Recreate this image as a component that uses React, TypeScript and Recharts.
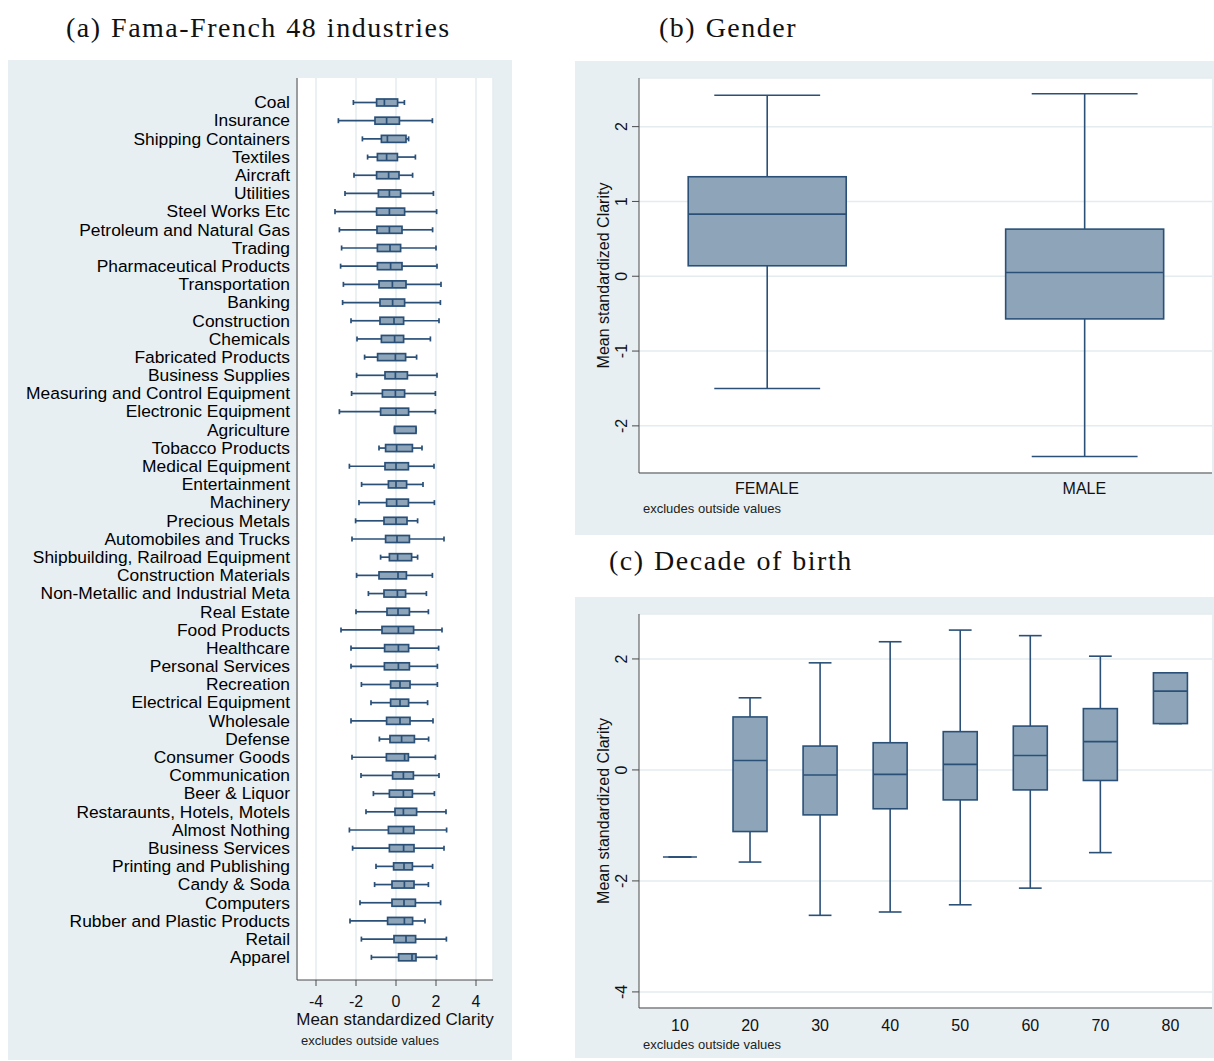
import React from "react";
import { ComposedChart, Bar, XAxis, YAxis, CartesianGrid } from "recharts";

// Stata s2color-ish palette
const BG = "#e8eff2";
const NAVY = "#2a5078";
const FILL = "#8ea5b9";
const GRID = "#e4ecef";
const AXIS = "#4a4a4a";
const SANS = "Arial, 'Liberation Sans', sans-serif";
const SERIF = "'Liberation Serif', 'Times New Roman', serif";

// (a) Fama-French 48 industries
const industries = [
    "Coal", "Insurance", "Shipping Containers", "Textiles", "Aircraft", "Utilities",
    "Steel Works Etc", "Petroleum and Natural Gas", "Trading", "Pharmaceutical Products",
    "Transportation", "Banking", "Construction", "Chemicals", "Fabricated Products",
    "Business Supplies", "Measuring and Control Equipment", "Electronic Equipment",
    "Agriculture", "Tobacco Products", "Medical Equipment", "Entertainment", "Machinery",
    "Precious Metals", "Automobiles and Trucks", "Shipbuilding, Railroad Equipment",
    "Construction Materials", "Non-Metallic and Industrial Meta", "Real Estate",
    "Food Products", "Healthcare", "Personal Services", "Recreation", "Electrical Equipment",
    "Wholesale", "Defense", "Consumer Goods", "Communication", "Beer & Liquor",
    "Restaraunts, Hotels, Motels", "Almost Nothing", "Business Services",
    "Printing and Publishing", "Candy & Soda", "Computers", "Rubber and Plastic Products",
    "Retail", "Apparel",
];
const indMin = [
    -2.13, -2.88, -1.68, -1.42, -2.1, -2.55, -3.05, -2.83, -2.72, -2.77, -2.63, -2.67,
    -2.25, -1.95, -1.57, -1.97, -2.22, -2.83, -0.07, -0.85, -2.33, -1.72, -1.85, -2.02,
    -2.2, -0.77, -1.97, -1.38, -2.0, -2.75, -2.25, -2.25, -1.73, -1.25, -2.25, -0.83,
    -2.2, -1.75, -1.13, -1.5, -2.33, -2.17, -1.0, -1.07, -1.8, -2.3, -1.73, -1.23,
];
const indQ1 = [
    -0.97, -1.05, -0.73, -0.93, -0.97, -0.88, -0.97, -0.95, -0.93, -0.93, -0.85, -0.8,
    -0.8, -0.73, -0.92, -0.55, -0.68, -0.77, -0.07, -0.52, -0.55, -0.38, -0.47, -0.6,
    -0.52, -0.33, -0.85, -0.6, -0.45, -0.7, -0.57, -0.58, -0.27, -0.27, -0.47, -0.3,
    -0.48, -0.17, -0.33, -0.05, -0.38, -0.33, -0.12, -0.2, -0.2, -0.42, -0.1, 0.13,
];
const indMed = [
    -0.58, -0.47, -0.43, -0.47, -0.37, -0.33, -0.33, -0.33, -0.3, -0.27, -0.18, -0.17,
    -0.1, -0.07, -0.03, -0.03, -0.03, 0.0, -0.07, 0.03, 0.0, 0.0, 0.03, 0.0,
    0.05, 0.08, 0.1, 0.07, 0.1, 0.12, 0.12, 0.12, 0.2, 0.2, 0.2, 0.28,
    0.43, 0.37, 0.37, 0.37, 0.37, 0.38, 0.4, 0.42, 0.4, 0.42, 0.5, 0.8,
];
const indQ3 = [
    0.08, 0.17, 0.5, 0.07, 0.15, 0.23, 0.43, 0.3, 0.23, 0.3, 0.5, 0.43,
    0.38, 0.38, 0.48, 0.57, 0.43, 0.63, 1.0, 0.82, 0.62, 0.53, 0.62, 0.55,
    0.67, 0.78, 0.52, 0.48, 0.67, 0.88, 0.63, 0.67, 0.7, 0.63, 0.7, 0.92,
    0.62, 0.87, 0.82, 1.03, 0.9, 0.9, 0.82, 0.9, 0.97, 0.83, 0.98, 1.0,
];
const indMax = [
    0.42, 1.82, 0.63, 0.97, 0.83, 1.87, 2.03, 1.83, 2.0, 2.05, 2.25, 2.22,
    2.15, 1.72, 1.03, 2.05, 1.97, 1.97, 1.0, 1.3, 1.9, 1.35, 1.92, 1.08,
    2.4, 1.08, 1.82, 1.52, 1.62, 2.3, 2.13, 2.07, 2.07, 1.58, 1.85, 1.63,
    1.97, 2.15, 1.92, 2.5, 2.53, 2.4, 1.83, 1.62, 2.23, 1.45, 2.52, 2.03,
];

// (b) Gender
const genders = ["FEMALE", "MALE"];
const genMin = [-1.5, -2.41];
const genQ1 = [0.14, -0.57];
const genMed = [0.83, 0.05];
const genQ3 = [1.33, 0.63];
const genMax = [2.42, 2.44];

// (c) Decade of birth
const decades = [10, 20, 30, 40, 50, 60, 70, 80];
const decMin = [-1.57, -1.66, -2.62, -2.56, -2.43, -2.13, -1.49, 0.835];
const decQ1 = [-1.57, -1.11, -0.81, -0.7, -0.54, -0.36, -0.19, 0.835];
const decMed = [-1.57, 0.17, -0.09, -0.08, 0.1, 0.26, 0.51, 1.42];
const decQ3 = [-1.57, 0.955, 0.43, 0.49, 0.69, 0.79, 1.105, 1.75];
const decMax = [-1.57, 1.3, 1.93, 2.31, 2.52, 2.42, 2.05, 1.75];

const industryData = industries.map((name, i) => ({
    name,
    min: indMin[i],
    q1: indQ1[i],
    med: indMed[i],
    q3: indQ3[i],
    max: indMax[i],
}));

const genderData = genders.map((name, i) => ({
    pos: i + 1,
    min: genMin[i],
    q1: genQ1[i],
    med: genMed[i],
    q3: genQ3[i],
    max: genMax[i],
}));

const decadeData = decades.map((d, i) => ({
    pos: d,
    min: decMin[i],
    q1: decQ1[i],
    med: decMed[i],
    q3: decQ3[i],
    max: decMax[i],
}));

const whiskerRange = (d: any) => [d.min, d.max];

// horizontal box: the bar spans min..max along x
const HBox = (props: any) => {
    const { x, y, width, height, payload } = props;
    const { min, q1, med, q3, max } = payload;
    const span = max - min;
    const px = (v: number) => (span === 0 ? x : x + (width * (v - min)) / span);
    const cy = y + height / 2;
    const cap = height * 0.36;
    return (
        <g stroke={NAVY} strokeWidth={1.7} fill="none">
            <line x1={px(min)} x2={px(q1)} y1={cy} y2={cy} />
            <line x1={px(q3)} x2={px(max)} y1={cy} y2={cy} />
            <line x1={px(min)} x2={px(min)} y1={cy - cap} y2={cy + cap} />
            <line x1={px(max)} x2={px(max)} y1={cy - cap} y2={cy + cap} />
            <rect x={px(q1)} y={y} width={px(q3) - px(q1)} height={height} fill={FILL} />
            <line x1={px(med)} x2={px(med)} y1={y} y2={y + height} />
        </g>
    );
};

// vertical box: the bar spans min..max along y
const VBox = (props: any) => {
    const { x, y, width, height, payload } = props;
    const { min, q1, med, q3, max } = payload;
    const span = max - min;
    const py = (v: number) => (span === 0 ? y : y + (height * (max - v)) / span);
    const cx = x + width / 2;
    const cap = (width * 0.67) / 2;
    return (
        <g stroke={NAVY} strokeWidth={1.6} fill="none">
            <line x1={cx} x2={cx} y1={py(max)} y2={py(q3)} />
            <line x1={cx} x2={cx} y1={py(q1)} y2={py(min)} />
            <line x1={cx - cap} x2={cx + cap} y1={py(max)} y2={py(max)} />
            <line x1={cx - cap} x2={cx + cap} y1={py(min)} y2={py(min)} />
            <rect x={x} y={py(q3)} width={width} height={py(q1) - py(q3)} fill={FILL} />
            <line x1={x} x2={x + width} y1={py(med)} y2={py(med)} />
        </g>
    );
};

const RotTick = (props: any) => {
    const { x, y, payload } = props;
    return (
        <text
            transform={`translate(${x - 4.6},${y}) rotate(-90)`}
            textAnchor="middle"
            fontSize={16}
            fontFamily={SANS}
            fill="#111"
        >
            {payload.value}
        </text>
    );
};

const noteStyle: React.CSSProperties = {
    position: "absolute",
    fontFamily: SANS,
    fontSize: 13,
    lineHeight: "13px",
    color: "#222",
    whiteSpace: "nowrap",
};

const titleStyle: React.CSSProperties = {
    position: "absolute",
    fontFamily: SERIF,
    fontSize: 28,
    lineHeight: "28px",
    letterSpacing: "1.5px",
    wordSpacing: "1px",
    color: "#111",
    whiteSpace: "nowrap",
};

function IndustryPanel() {
    return (
        <div style={{ position: "absolute", left: 8, top: 60, width: 504, height: 1000, background: BG }}>
            <ComposedChart
                layout="vertical"
                width={504}
                height={1000}
                data={industryData}
                margin={{ top: 18, right: 19, bottom: 0, left: 0 }}
            >
                <CartesianGrid horizontal={false} stroke={GRID} strokeWidth={1.5} fill="#ffffff" />
                <XAxis
                    type="number"
                    domain={[-4.95, 4.85]}
                    ticks={[-4, -2, 0, 2, 4]}
                    allowDataOverflow
                    height={80}
                    stroke={AXIS}
                    tickSize={6}
                    tickMargin={10}
                    tick={{ fontSize: 16, fill: "#111", fontFamily: SANS }}
                    label={{
                        value: "Mean standardized Clarity",
                        position: "insideBottom",
                        offset: 35,
                        fontSize: 17,
                        fill: "#111",
                        fontFamily: SANS,
                    }}
                />
                <YAxis
                    type="category"
                    dataKey="name"
                    width={289}
                    interval={0}
                    stroke={AXIS}
                    tickLine={false}
                    tickSize={4}
                    tickMargin={3}
                    padding={{ top: 15, bottom: 14 }}
                    tick={{ fontSize: 17.4, fill: "#000", fontFamily: SANS }}
                />
                <Bar dataKey={whiskerRange} barSize={7} shape={HBox} isAnimationActive={false} />
            </ComposedChart>
        </div>
    );
}

function GenderPanel() {
    return (
        <div style={{ position: "absolute", left: 575, top: 61, width: 639, height: 474, background: BG }}>
            <ComposedChart
                width={639}
                height={474}
                data={genderData}
                margin={{ top: 17, right: 2, bottom: 0, left: 0 }}
            >
                <CartesianGrid vertical={false} stroke={GRID} strokeWidth={1.5} fill="#ffffff" />
                <XAxis
                    type="number"
                    dataKey="pos"
                    domain={[0.597, 2.402]}
                    ticks={[1, 2]}
                    allowDataOverflow
                    tickFormatter={(v: number) => genders[v - 1]}
                    height={62}
                    stroke={AXIS}
                    tickLine={false}
                    tickSize={4}
                    tickMargin={6}
                    tick={{ fontSize: 16, fill: "#111", fontFamily: SANS }}
                />
                <YAxis
                    type="number"
                    domain={[-2.63, 2.65]}
                    ticks={[-2, -1, 0, 1, 2]}
                    allowDataOverflow
                    width={64}
                    stroke={AXIS}
                    tickSize={7}
                    tickMargin={0}
                    tick={<RotTick />}
                    label={{
                        value: "Mean standardized Clarity",
                        angle: -90,
                        position: "center",
                        dx: -4,
                        fontSize: 16,
                        fill: "#111",
                        fontFamily: SANS,
                    }}
                />
                <Bar dataKey={whiskerRange} barSize={158} shape={VBox} isAnimationActive={false} />
            </ComposedChart>
        </div>
    );
}

function DecadePanel() {
    return (
        <div style={{ position: "absolute", left: 575, top: 597, width: 639, height: 461, background: BG }}>
            <ComposedChart
                width={639}
                height={461}
                data={decadeData}
                margin={{ top: 17, right: 2, bottom: 0, left: 0 }}
            >
                <CartesianGrid vertical={false} stroke={GRID} strokeWidth={1.5} fill="#ffffff" />
                <XAxis
                    type="number"
                    dataKey="pos"
                    domain={[4.15, 85.93]}
                    ticks={decades}
                    allowDataOverflow
                    height={50}
                    stroke={AXIS}
                    tickLine={false}
                    tickSize={4}
                    tickMargin={8}
                    tick={{ fontSize: 16, fill: "#111", fontFamily: SANS }}
                />
                <YAxis
                    type="number"
                    domain={[-4.29, 2.81]}
                    ticks={[-4, -2, 0, 2]}
                    allowDataOverflow
                    width={64}
                    stroke={AXIS}
                    tickSize={7}
                    tickMargin={0}
                    tick={<RotTick />}
                    label={{
                        value: "Mean standardized Clarity",
                        angle: -90,
                        position: "center",
                        dx: -4,
                        fontSize: 16,
                        fill: "#111",
                        fontFamily: SANS,
                    }}
                />
                <Bar dataKey={whiskerRange} barSize={34} shape={VBox} isAnimationActive={false} />
            </ComposedChart>
        </div>
    );
}

export default function App() {
    return (
        <div>
            <div style={{ ...titleStyle, left: 66, top: 14 }}>(a) Fama-French 48 industries</div>
            <div style={{ ...titleStyle, left: 659, top: 14 }}>(b) Gender</div>
            <div style={{ ...titleStyle, left: 609, top: 547 }}>(c) Decade of birth</div>

            <IndustryPanel />
            <GenderPanel />
            <DecadePanel />

            <div style={{ ...noteStyle, left: 301, top: 1034 }}>excludes outside values</div>
            <div style={{ ...noteStyle, left: 643, top: 502 }}>excludes outside values</div>
            <div style={{ ...noteStyle, left: 643, top: 1038 }}>excludes outside values</div>
        </div>
    );
}
